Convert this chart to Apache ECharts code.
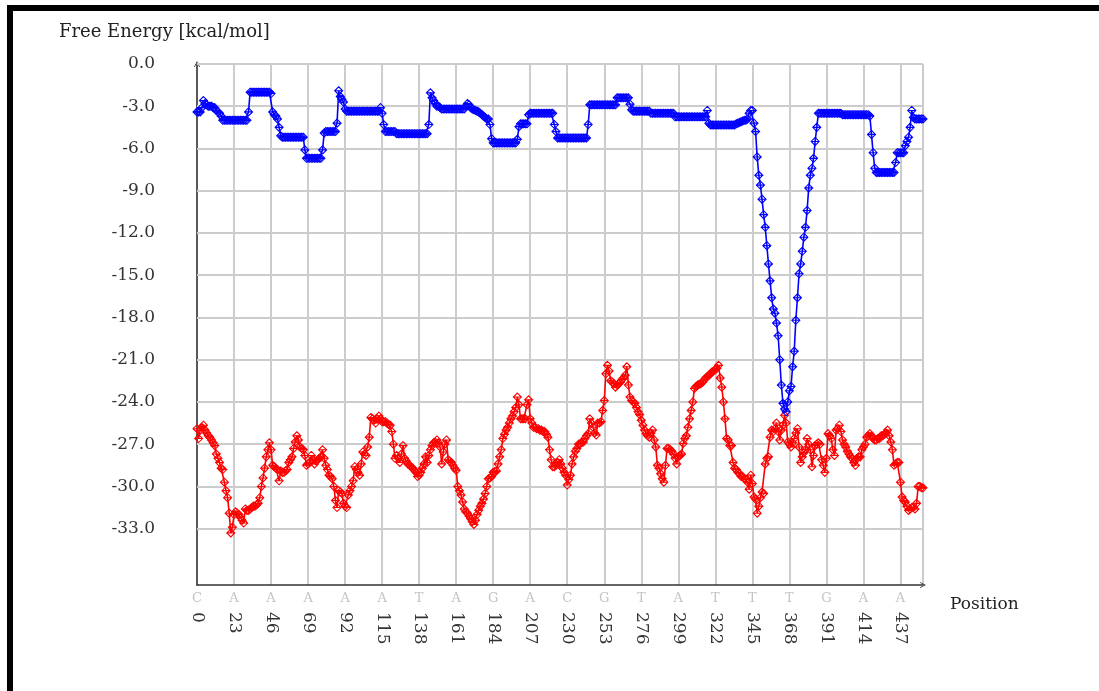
<!DOCTYPE html>
<html><head><meta charset="utf-8">
<script src="https://cdn.jsdelivr.net/npm/echarts@6/dist/echarts.min.js"></script>
<style>html,body{margin:0;padding:0;background:#fff}#c{width:1099px;height:691px}</style>
</head><body><div id="c"></div>
<script>
// x tick positions and the base shown above each tick
const xTicks = [0,23,46,69,92,115,138,161,184,207,230,253,276,299,322,345,368,391,414,437];
const tickBases = ['C','A','A','A','A','A','T','A','G','A','C','G','T','A','T','T','T','G','A','A'];
const yTicks = [0,-3,-6,-9,-12,-15,-18,-21,-24,-27,-30,-33];

// free energy per position (blue curve), positions 0..451
const blueEnergy = [
-3.4,-3.4,-3.4,-3.1,-2.6,-2.8,-2.9,-3.0,-3.0,-3.0,
-3.1,-3.1,-3.3,-3.4,-3.5,-3.7,-4.0,-4.0,-4.0,-4.0,
-4.0,-4.0,-4.0,-4.0,-4.0,-4.0,-4.0,-4.0,-4.0,-4.0,
-4.0,-4.0,-3.4,-2.0,-2.0,-2.0,-2.0,-2.0,-2.0,-2.0,
-2.0,-2.0,-2.0,-2.0,-2.0,-2.0,-2.1,-3.4,-3.6,-3.7,
-3.9,-4.5,-5.1,-5.2,-5.2,-5.2,-5.2,-5.2,-5.2,-5.2,
-5.2,-5.2,-5.2,-5.2,-5.2,-5.2,-5.2,-6.1,-6.7,-6.7,
-6.7,-6.7,-6.7,-6.7,-6.7,-6.7,-6.7,-6.7,-6.1,-4.9,
-4.8,-4.8,-4.8,-4.8,-4.8,-4.8,-4.8,-4.2,-1.9,-2.3,
-2.5,-2.7,-3.2,-3.35,-3.35,-3.35,-3.35,-3.35,-3.35,-3.35,
-3.35,-3.35,-3.35,-3.35,-3.35,-3.35,-3.35,-3.35,-3.35,-3.35,
-3.35,-3.35,-3.35,-3.35,-3.1,-3.5,-4.3,-4.8,-4.8,-4.8,
-4.8,-4.8,-4.8,-4.8,-4.95,-4.95,-4.95,-4.95,-4.95,-4.95,
-4.95,-4.95,-4.95,-4.95,-4.95,-4.95,-4.95,-4.95,-4.95,-4.95,
-4.95,-4.95,-4.95,-4.95,-4.3,-2.05,-2.4,-2.6,-2.8,-3.0,
-3.0,-3.1,-3.2,-3.2,-3.2,-3.2,-3.2,-3.2,-3.2,-3.2,
-3.2,-3.2,-3.2,-3.2,-3.2,-3.2,-3.2,-3.0,-2.8,-2.9,
-3.1,-3.2,-3.25,-3.3,-3.35,-3.4,-3.5,-3.6,-3.7,-3.8,
-3.9,-3.9,-4.3,-5.3,-5.6,-5.6,-5.6,-5.6,-5.6,-5.6,
-5.6,-5.6,-5.6,-5.6,-5.6,-5.6,-5.6,-5.6,-5.6,-5.35,
-4.45,-4.25,-4.25,-4.25,-4.25,-4.25,-3.6,-3.5,-3.5,-3.5,
-3.5,-3.5,-3.5,-3.5,-3.5,-3.5,-3.5,-3.5,-3.5,-3.5,
-3.5,-3.5,-4.3,-4.8,-5.25,-5.25,-5.25,-5.25,-5.25,-5.25,
-5.25,-5.25,-5.25,-5.25,-5.25,-5.25,-5.25,-5.25,-5.25,-5.25,
-5.25,-5.25,-5.25,-4.3,-2.9,-2.9,-2.9,-2.9,-2.9,-2.9,
-2.9,-2.9,-2.9,-2.9,-2.9,-2.9,-2.9,-2.9,-2.9,-2.9,
-2.9,-2.4,-2.4,-2.4,-2.4,-2.4,-2.4,-2.4,-2.4,-2.85,
-3.25,-3.35,-3.35,-3.35,-3.35,-3.35,-3.35,-3.35,-3.35,-3.35,
-3.35,-3.35,-3.5,-3.5,-3.5,-3.5,-3.5,-3.5,-3.5,-3.5,
-3.5,-3.5,-3.5,-3.5,-3.5,-3.5,-3.5,-3.75,-3.75,-3.75,
-3.75,-3.75,-3.75,-3.75,-3.75,-3.75,-3.75,-3.75,-3.75,-3.75,
-3.75,-3.75,-3.75,-3.75,-3.75,-3.75,-3.75,-3.3,-4.2,-4.33,
-4.33,-4.33,-4.33,-4.33,-4.33,-4.33,-4.33,-4.33,-4.33,-4.33,
-4.33,-4.33,-4.33,-4.33,-4.33,-4.25,-4.2,-4.15,-4.1,-4.05,
-4.0,-4.0,-3.9,-3.5,-3.3,-3.3,-4.2,-4.8,-6.6,-7.9,
-8.6,-9.6,-10.7,-11.6,-12.9,-14.2,-15.4,-16.6,-17.4,-17.7,
-18.4,-19.3,-21.0,-22.8,-24.1,-24.5,-24.7,-24.0,-23.2,-22.9,
-21.5,-20.4,-18.2,-16.6,-14.9,-14.2,-13.3,-12.3,-11.6,-10.4,
-8.8,-7.9,-7.4,-6.7,-5.5,-4.5,-3.5,-3.5,-3.5,-3.5,
-3.5,-3.5,-3.5,-3.5,-3.5,-3.5,-3.5,-3.5,-3.5,-3.5,
-3.5,-3.6,-3.6,-3.6,-3.6,-3.6,-3.6,-3.6,-3.6,-3.6,
-3.6,-3.6,-3.6,-3.6,-3.6,-3.6,-3.6,-3.6,-3.7,-5.0,
-6.3,-7.4,-7.7,-7.7,-7.7,-7.7,-7.7,-7.7,-7.7,-7.7,
-7.7,-7.7,-7.7,-7.7,-7.0,-6.3,-6.3,-6.3,-6.3,-6.3,
-5.8,-5.5,-5.2,-4.5,-3.3,-3.8,-3.9,-3.9,-3.9,-3.9,
-3.9,-3.9
];

// free energy per position (red curve), positions 0..451
const redEnergy = [
-25.9,-26.6,-26.0,-25.8,-25.65,-26.0,-26.2,-26.4,-26.5,-26.7,
-26.9,-27.1,-27.7,-28.0,-28.3,-28.7,-28.8,-29.7,-30.3,-30.8,
-31.9,-33.3,-32.9,-32.0,-31.8,-31.9,-32.0,-32.2,-32.4,-32.6,
-31.6,-31.7,-31.7,-31.6,-31.5,-31.4,-31.4,-31.3,-31.2,-30.8,
-30.0,-29.4,-28.7,-27.9,-27.4,-26.9,-27.4,-28.5,-28.6,-28.7,
-28.8,-29.6,-28.9,-29.0,-29.0,-28.9,-28.8,-28.3,-28.1,-27.9,
-27.3,-26.85,-26.4,-26.7,-27.2,-27.3,-27.4,-27.8,-28.5,-28.4,
-28.3,-27.8,-28.1,-28.4,-28.2,-28.1,-28.0,-27.9,-27.4,-28.0,
-28.5,-28.8,-29.2,-29.3,-29.45,-30.0,-31.0,-31.5,-30.3,-30.4,
-30.5,-31.2,-31.4,-31.5,-30.6,-30.3,-30.0,-29.6,-28.6,-28.8,
-29.0,-29.2,-28.4,-27.55,-27.7,-27.8,-27.2,-26.5,-25.1,-25.2,
-25.3,-25.5,-25.2,-25.0,-25.2,-25.4,-25.4,-25.4,-25.5,-25.6,
-25.65,-26.1,-27.0,-28.0,-27.8,-28.0,-28.3,-27.7,-27.1,-28.0,
-28.2,-28.4,-28.5,-28.6,-28.7,-28.85,-29.0,-29.3,-29.2,-29.0,
-28.7,-28.4,-27.9,-28.3,-27.8,-27.4,-27.1,-26.9,-26.85,-26.7,
-26.9,-27.2,-28.4,-27.55,-27.0,-26.7,-28.1,-28.2,-28.3,-28.5,
-28.7,-28.85,-30.0,-30.3,-30.6,-31.1,-31.6,-31.8,-31.9,-32.1,
-32.3,-32.5,-32.7,-32.4,-32.0,-31.7,-31.4,-31.2,-30.9,-30.5,
-30.0,-29.45,-29.4,-29.3,-29.0,-28.95,-28.9,-28.4,-27.9,-27.4,
-26.6,-26.3,-26.0,-25.8,-25.5,-25.2,-25.0,-24.7,-24.4,-23.65,
-24.2,-25.2,-25.2,-25.2,-25.2,-24.2,-23.85,-25.2,-25.5,-25.8,
-25.8,-25.9,-25.9,-26.0,-26.0,-26.1,-26.1,-26.3,-26.5,-27.4,
-28.1,-28.6,-28.6,-28.5,-28.3,-28.1,-28.4,-28.7,-29.0,-29.2,
-29.9,-29.5,-29.2,-28.4,-27.9,-27.5,-27.3,-27.0,-26.95,-26.9,
-26.85,-26.6,-26.4,-26.25,-25.2,-25.5,-25.8,-26.2,-26.35,-25.5,
-25.5,-25.4,-24.6,-23.9,-22.0,-21.4,-21.8,-22.5,-22.6,-22.7,
-22.95,-22.8,-22.7,-22.6,-22.4,-22.3,-22.1,-21.5,-22.8,-23.65,
-23.9,-24.0,-24.1,-24.4,-24.7,-24.9,-25.3,-25.65,-26.0,-26.25,
-26.4,-26.5,-26.2,-26.0,-26.7,-27.2,-28.5,-28.7,-29.1,-29.45,
-29.7,-28.5,-27.3,-27.3,-27.4,-27.5,-27.7,-28.0,-28.4,-27.9,
-27.8,-27.7,-26.95,-26.6,-26.4,-25.8,-25.2,-24.6,-24.0,-23.05,
-22.9,-22.8,-22.75,-22.7,-22.6,-22.45,-22.3,-22.2,-22.1,-22.0,
-21.85,-21.8,-21.7,-21.6,-21.4,-22.3,-22.95,-24.0,-25.2,-26.6,
-26.7,-27.1,-27.1,-28.3,-28.7,-28.8,-29.0,-29.1,-29.3,-29.3,
-29.45,-29.5,-29.7,-30.2,-29.2,-29.8,-30.75,-30.9,-31.9,-31.4,
-30.8,-30.4,-30.5,-28.4,-28.0,-27.9,-26.5,-26.0,-26.1,-25.9,
-25.5,-26.1,-26.7,-26.0,-25.65,-24.95,-25.5,-26.85,-27.0,-27.2,
-26.9,-26.6,-26.2,-25.9,-27.2,-28.3,-27.9,-27.6,-27.4,-26.6,
-27.0,-27.4,-28.6,-27.8,-27.1,-27.0,-26.9,-27.0,-28.1,-28.5,
-29.0,-28.0,-26.25,-26.4,-26.6,-27.4,-27.8,-26.0,-25.9,-25.65,
-26.1,-26.7,-27.0,-27.2,-27.5,-27.7,-27.9,-28.0,-28.3,-28.5,
-28.0,-27.9,-27.9,-27.4,-27.2,-27.0,-26.5,-26.4,-26.25,-26.4,
-26.6,-26.7,-26.7,-26.6,-26.6,-26.4,-26.4,-26.3,-26.2,-26.0,
-26.4,-26.85,-27.4,-28.5,-28.4,-28.3,-28.3,-29.7,-30.75,-31.0,
-31.1,-31.4,-31.7,-31.6,-31.5,-31.5,-31.6,-31.2,-30.0,-30.0,
-30.1,-30.1
];

const FONT = 'DejaVu Serif';
const arrowPath = 'path://M0,10 L5,0 L10,10 L8.6,10 L5,2.8 L1.4,10 Z';
const markerPath = 'path://M5,0 L10,5 L5,10 L0,5 Z M0,5 L10,5';
const onTick = (v, list) => { const r = Math.round(v); return Math.abs(v - r) < 1e-6 && list.indexOf(r) >= 0; };

const chart = echarts.init(document.getElementById('c'), null, {renderer: 'canvas'});
chart.setOption({
  animation: false,
  backgroundColor: '#ffffff',
  title: {
    text: 'Free Energy [kcal/mol]', left: 54, top: 18,
    textStyle: {fontFamily: FONT, fontSize: 18, fontWeight: 'normal', color: '#222'}
  },
  graphic: [
    {type: 'rect', shape: {x: 7, y: 5, width: 1092, height: 6}, style: {fill: '#000'}, silent: true},
    {type: 'rect', shape: {x: 7, y: 5, width: 6, height: 686}, style: {fill: '#000'}, silent: true},
    {type: 'text', left: 950, top: 596, silent: true,
     style: {text: 'Position', fontFamily: FONT, fontSize: 17, fill: '#222'}}
  ],
  grid: {left: 197, top: 64, right: 176, bottom: 106, containLabel: false},
  xAxis: [
    {
      type: 'value', min: 0, max: 451, interval: 23, position: 'bottom',
      axisLine: {show: true, onZero: false, lineStyle: {color: '#333', width: 1.5},
                 symbol: ['none', arrowPath], symbolSize: [8, 6]},
      axisTick: {show: false},
      splitLine: {show: true, lineStyle: {color: '#cccccc', width: 2}},
      axisLabel: {margin: 7, fontFamily: FONT, fontSize: 13, color: '#c4c4c4',
                  formatter: v => onTick(v, xTicks) ? tickBases[xTicks.indexOf(Math.round(v))] : ''}
    },
    {
      type: 'value', min: 0, max: 451, interval: 23, position: 'bottom',
      axisLine: {show: false, onZero: false}, axisTick: {show: false}, splitLine: {show: false},
      axisLabel: {rotate: -90, margin: 27, fontFamily: FONT, fontSize: 17, color: '#333',
                  formatter: v => onTick(v, xTicks) ? String(Math.round(v)) : ''}
    }
  ],
  yAxis: {
    type: 'value', min: -37, max: 0, interval: 1,
    axisLine: {show: true, onZero: false, lineStyle: {color: '#333', width: 1.5},
               symbol: ['none', arrowPath], symbolSize: [8, 6]},
    axisTick: {show: false},
    splitLine: {show: false},
    axisLabel: {margin: 42, fontFamily: FONT, fontSize: 17, color: '#333',
                formatter: v => onTick(v, yTicks) ? v.toFixed(1) : ''}
  },
  series: [
    {
      type: 'line', name: 'red', xAxisIndex: 0,
      data: redEnergy.map((v, i) => [i, v]),
      showAllSymbol: true, symbol: markerPath, symbolSize: 8,
      lineStyle: {color: '#ff0000', width: 1.6},
      itemStyle: {color: 'rgba(0,0,0,0)', borderColor: '#ff0000', borderWidth: 1.1},
      emphasis: {disabled: true}, silent: true,
      markLine: {
        silent: true, z: 1, symbol: ['none', 'none'], label: {show: false},
        lineStyle: {color: '#cccccc', width: 2, type: 'solid'},
        emphasis: {disabled: true},
        data: yTicks.map(v => ({yAxis: v}))
      }
    },
    {
      type: 'line', name: 'blue', xAxisIndex: 0,
      data: blueEnergy.map((v, i) => [i, v]),
      showAllSymbol: true, symbol: markerPath, symbolSize: 8,
      lineStyle: {color: '#0000ff', width: 1.6},
      itemStyle: {color: 'rgba(0,0,0,0)', borderColor: '#0000ff', borderWidth: 1.1},
      emphasis: {disabled: true}, silent: true
    }
  ]
});
</script>
</body></html>
